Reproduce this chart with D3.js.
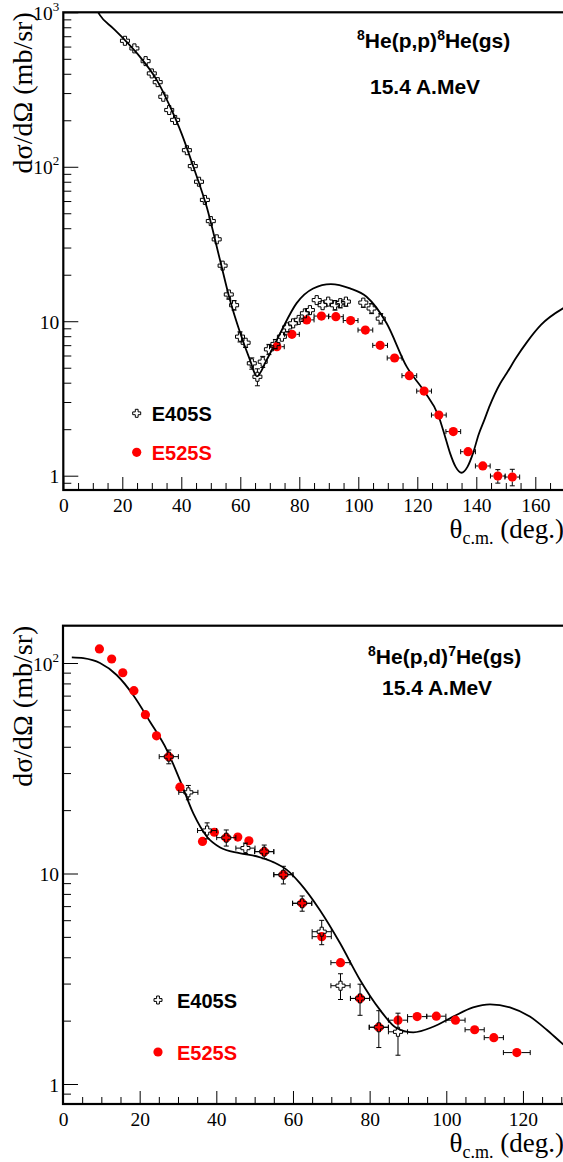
<!DOCTYPE html>
<html>
<head>
<meta charset="utf-8">
<script src="https://cdn.jsdelivr.net/npm/d3@7"></script>
<style>
  html, body { margin: 0; padding: 0; background: #fff; overflow: hidden; }
  svg { display: block; }
</style>
</head>
<body>
<svg id="fig" width="563" height="1162"></svg>
<script>
// ---------- 8He(p,p)8He(gs), 15.4 A.MeV ----------
const ppTicksX = [0, 20, 40, 60, 80, 100, 120, 140, 160];
const ppTicksY = [1, 10, 100, 1000];
const ppTickLabelsY = [["1", ""], ["10", ""], ["10", "2"], ["10", "3"]];

const pp405Theta = [20.9, 24.1, 27.9, 30.0, 32.0, 33.9, 35.9, 37.9, 41.9, 43.9, 46.0, 48.0, 50.0, 52.0, 54.0,
  56.1, 57.9, 59.9, 61.8, 63.9, 65.8, 67.6, 69.7, 71.9, 74.1, 75.9, 77.9, 79.8, 81.9, 83.6,
  85.9, 87.9, 89.8, 92.1, 93.9, 95.8, 101.7, 104.5, 107.6];
const pp405Xs = [654, 584, 483, 402, 353, 284, 233, 201, 128, 101, 80, 61, 44.5, 33.9, 22.9,
  14.9, 12.7, 7.94, 7.26, 5.34, 4.37, 5.47, 6.58, 7.12, 7.94, 9.13, 9.69, 10.2, 11.25, 11.8,
  13.7, 12.7, 13.4, 12.7, 13.1, 13.4, 13.2, 12.1, 10.4];
const pp405Err = [20, 18, 15, 12, 11, 9, 7, 6, 4, 3, 2.4, 1.8, 1.3, 1.0, 0.7,
  1.0, 0.9, 0.6, 0.5, 0.45, 0.55, 0.45, 0.5, 0.5, 0.5, 0.6, 0.6, 0.6, 0.7, 0.7,
  0.8, 0.8, 0.8, 0.9, 0.9, 0.9, 0.9, 0.9, 0.8];

const pp525Theta = [72.4, 77.5, 82.5, 87.5, 92.4, 97.4, 102.4, 107.4, 112.3, 117.3, 122.3, 127.3, 132.2, 137.2, 142.2, 147.3, 152.2];
const pp525Xs = [6.84, 8.23, 10.2, 10.8, 10.7, 10.1, 8.77, 6.98, 5.78, 4.44, 3.53, 2.47, 1.93, 1.43, 1.156, 0.995, 0.98];
const pp525Err = [0.2, 0.2, 0.25, 0.25, 0.25, 0.25, 0.2, 0.18, 0.15, 0.12, 0.1, 0.07, 0.06, 0.05, 0.07, 0.1, 0.12];
const pp525ThetaErr = [2.5, 2.5, 2.5, 2.5, 2.5, 2.5, 2.5, 2.5, 2.5, 2.5, 2.5, 2.5, 2.5, 2.5, 2.5, 2.5, 2.5];

const ppCalcTheta = [11.0, 12.4, 16.9, 20.9, 26.0, 31.7, 36.2, 40.1, 44.1, 48.6, 53.1, 56.5, 60.0, 63.3, 65.6,
  68.9, 73.5, 79.1, 84.7, 90.7, 97.2, 102.8, 109.6, 116.4, 122.3, 127.3, 129.2, 131.1, 133.0, 135.0,
  137.0, 138.9, 140.8, 142.7, 144.6, 148.1, 150.3, 153.5, 157.1, 162.0, 170.0];
const ppCalcXs = [1070, 959, 787, 660, 515, 364, 245, 164, 100, 55, 25, 13.7, 8.35, 5.6, 4.4,
  5.6, 8.35, 13.1, 16.3, 17.4, 16.3, 14.4, 9.7, 5.08, 3.53, 2.41, 1.85, 1.40, 1.14, 1.045,
  1.14, 1.40, 1.85, 2.29, 2.85, 3.95, 4.6, 5.8, 7.3, 9.5, 12.3];

// ---------- 8He(p,d)7He(gs), 15.4 A.MeV ----------
const pdTicksX = [0, 20, 40, 60, 80, 100, 120];
const pdTicksY = [1, 10, 100];
const pdTickLabelsY = [["1", ""], ["10", ""], ["10", "2"]];

const pd405Theta = [27.6, 32.7, 37.6, 42.6, 47.6, 52.5, 57.5, 62.4, 67.5, 72.4, 77.5, 82.4, 87.4];
const pd405Xs = [35.9, 24.3, 16.0, 14.8, 13.2, 12.7, 9.87, 7.22, 5.29, 2.93, 2.55, 1.86, 1.77];
const pd405Err = [2.7, 1.9, 1.4, 1.3, 0.75, 0.95, 0.95, 0.6, 0.7, 0.41, 0.43, 0.37, 0.4];
const pd405ThetaErr = [2.5, 2.5, 2.5, 2.5, 2.5, 2.5, 2.5, 2.5, 2.5, 2.5, 2.5, 2.5, 2.5];

const pd525Theta = [9.5, 12.7, 15.6, 18.5, 21.5, 24.4, 27.6, 30.5, 36.4, 39.5, 42.6, 45.6, 48.5,
  52.5, 57.5, 62.4, 67.5, 72.4, 77.5, 82.4, 87.4, 92.4, 97.4, 102.4, 107.4, 112.4, 118.4];
const pd525Xs = [116.6, 104.5, 89.9, 73.9, 56.8, 45.1, 35.9, 25.7, 14.2, 15.7, 14.8, 14.9, 14.3,
  12.7, 9.87, 7.22, 5.01, 3.77, 2.55, 1.86, 2.01, 2.09, 2.10, 2.01, 1.81, 1.66, 1.41];
const pd525Err = [2, 2, 1.8, 1.5, 1.1, 0.9, 0.7, 0.5, 0.3, 0.3, 0.3, 0.3, 0.3,
  0.25, 0.2, 0.15, 0.1, 0.08, 0.06, 0.05, 0.05, 0.05, 0.05, 0.05, 0.05, 0.05, 0.05];
const pd525ThetaErr = [0, 0, 0, 0, 0, 0, 0, 0, 0, 0, 0, 0, 0,
  2.5, 2.5, 2.5, 2.5, 2.5, 2.5, 2.5, 2.5, 2.5, 2.5, 2.5, 2.5, 2.5, 3.5];

const pdCalcTheta = [2.3, 5.3, 9.65, 14.0, 18.3, 22.7, 27.1, 30.5, 34.0, 37.5, 41.0, 46.0, 51.0, 55.0, 58.4,
  61.8, 67.0, 72.3, 77.5, 82.7, 87.1, 91.4, 96.6, 101.8, 107.0, 111.4, 116.6, 121.8, 126.2, 130.4, 132.0];
const pdCalcXs = [106.4, 105.4, 100, 87.7, 70.5, 52.6, 38.6, 27.8, 19.3, 15.0, 13.3, 12.5, 12.0, 11.3, 10.4,
  9.0, 6.71, 4.66, 3.12, 2.25, 1.84, 1.76, 1.87, 2.09, 2.31, 2.39, 2.31, 2.09, 1.81, 1.55, 1.47];

// ---------- drawing ----------
const RED = "#ff0000";
const SERIF = "'Liberation Serif', 'Times New Roman', serif";
const SANS = "'Liberation Sans', Arial, Helvetica, sans-serif";
const svg = d3.select("#fig");

const zip = (t, v, ey, ex) => t.map((d, i) => ({ t: d, v: v[i], ey: ey ? ey[i] : 0, ex: ex ? ex[i] : 0 }));

function crossPath(s, a) {
  return `M${-a},${-s}H${a}V${-a}H${s}V${a}H${a}V${s}H${-a}V${a}H${-s}V${-a}H${-a}Z`;
}

function errorBars(g, pts, x, y, gap) {
  const cap = 2.5;
  pts.forEach(p => {
    const cx = x(p.t), cy = y(p.v);
    if (p.ey > 0) {
      const yTop = y(p.v + p.ey), yBot = y(Math.max(p.v - p.ey, 1e-3));
      if (cy - gap > yTop) {
        g.append("line").attr("x1", cx).attr("x2", cx).attr("y1", cy - gap).attr("y2", yTop);
        g.append("line").attr("x1", cx - cap).attr("x2", cx + cap).attr("y1", yTop).attr("y2", yTop);
      }
      if (yBot > cy + gap) {
        g.append("line").attr("x1", cx).attr("x2", cx).attr("y1", cy + gap).attr("y2", yBot);
        g.append("line").attr("x1", cx - cap).attr("x2", cx + cap).attr("y1", yBot).attr("y2", yBot);
      }
    }
    if (p.ex > 0) {
      const xl = x(p.t - p.ex), xr = x(p.t + p.ex);
      if (xl < cx - gap) {
        g.append("line").attr("y1", cy).attr("y2", cy).attr("x1", xl).attr("x2", cx - gap);
        g.append("line").attr("y1", cy - cap).attr("y2", cy + cap).attr("x1", xl).attr("x2", xl);
      }
      if (xr > cx + gap) {
        g.append("line").attr("y1", cy).attr("y2", cy).attr("x1", cx + gap).attr("x2", xr);
        g.append("line").attr("y1", cy - cap).attr("y2", cy + cap).attr("x1", xr).attr("x2", xr);
      }
    }
  });
}

function drawPanel(cfg) {
  const g = svg.append("g");
  const x = d3.scaleLinear().domain(cfg.xDomain).range([cfg.left, cfg.right]);
  const y = d3.scaleLog().domain(cfg.yDomain).range([cfg.bottom, cfg.top]);

  const clipId = "clip-" + cfg.id;
  svg.append("clipPath").attr("id", clipId).append("rect")
    .attr("x", cfg.left).attr("y", cfg.top)
    .attr("width", cfg.right - cfg.left).attr("height", cfg.bottom - cfg.top);

  // x axis: minor every 5 deg, major every 20 deg, ticks pointing inward
  const minorX = d3.range(cfg.xDomain[0], cfg.xDomain[1] + 0.001, 5).filter(v => v % 20 !== 0);
  g.append("g").attr("transform", `translate(0,${cfg.bottom})`)
    .call(d3.axisBottom(x).tickValues(minorX).tickSize(-7).tickFormat(""))
    .call(a => a.select(".domain").remove());
  g.append("g").attr("transform", `translate(0,${cfg.bottom})`)
    .call(d3.axisBottom(x).tickValues(cfg.ticksX).tickSize(-13).tickPadding(7.8).tickFormat(d3.format("d")))
    .call(a => a.select(".domain").remove())
    .call(a => a.selectAll("text").attr("font-family", SERIF).attr("font-size", 19.5).attr("fill", "#000"));

  // y axis: log decades with 2..9 minor ticks
  const [y0, y1] = cfg.yDomain;
  const minorY = [];
  for (let e = Math.floor(Math.log10(y0)) ; e <= Math.ceil(Math.log10(y1)); e++) {
    for (let m = 2; m <= 9; m++) {
      const v = m * Math.pow(10, e);
      if (v >= y0 && v <= y1) minorY.push(v);
    }
  }
  g.append("g").attr("transform", `translate(${cfg.left},0)`)
    .call(d3.axisLeft(y).tickValues(minorY).tickSize(-8).tickFormat(""))
    .call(a => a.select(".domain").remove());
  g.append("g").attr("transform", `translate(${cfg.left},0)`)
    .call(d3.axisLeft(y).tickValues(cfg.ticksY).tickSize(-15).tickPadding(4).tickFormat(""))
    .call(a => a.select(".domain").remove())
    .call(a => a.selectAll(".tick").each(function (d, i) {
      const lab = cfg.tickLabelsY[i];
      const t = d3.select(this).append("text")
        .attr("x", -4).attr("y", 7)
        .attr("text-anchor", "end")
        .attr("font-family", SERIF).attr("font-size", 19.5).attr("fill", "#000");
      t.append("tspan").text(lab[0]);
      if (lab[1]) t.append("tspan").attr("font-size", 13).attr("dy", -9).text(lab[1]);
    }));
  g.selectAll(".tick line").attr("stroke", "#000").attr("stroke-width", 1);

  // frame
  g.append("rect")
    .attr("x", cfg.left).attr("y", cfg.top)
    .attr("width", cfg.right - cfg.left).attr("height", cfg.bottom - cfg.top)
    .attr("fill", "none").attr("stroke", "#000").attr("stroke-width", 2.2);

  // calculation
  const line = d3.line().x(d => x(d.t)).y(d => y(d.v)).curve(d3.curveMonotoneX);
  g.append("path").datum(zip(cfg.calcTheta, cfg.calcXs))
    .attr("clip-path", `url(#${clipId})`)
    .attr("d", line).attr("fill", "none").attr("stroke", "#000").attr("stroke-width", 1.8);

  // E525S: red dots
  const bars525 = g.append("g").attr("stroke", "#000").attr("stroke-width", 1);
  errorBars(bars525, cfg.d525, x, y, 4.5);
  g.append("g").selectAll("circle").data(cfg.d525).join("circle")
    .attr("cx", d => x(d.t)).attr("cy", d => y(d.v)).attr("r", 4.6).attr("fill", RED);

  // E405S: open crosses
  const bars405 = g.append("g").attr("stroke", "#000").attr("stroke-width", 1);
  errorBars(bars405, cfg.d405, x, y, 4.5);
  g.append("g").selectAll("path").data(cfg.d405).join("path")
    .attr("transform", d => `translate(${x(d.t)},${y(d.v)})`)
    .attr("d", crossPath(4.5, 1.6))
    .attr("fill", "none").attr("stroke", "#000").attr("stroke-width", 1);

  // titles
  const t1 = g.append("text").attr("x", cfg.title1[0]).attr("y", cfg.title1[1])
    .attr("font-family", SANS).attr("font-weight", "bold").attr("font-size", 21).attr("fill", "#000");
  cfg.reaction.forEach(([txt, sup]) => {
    if (sup) t1.append("tspan").attr("font-size", 14).attr("dy", -8).text(txt);
    else t1.append("tspan").attr("dy", t1.selectAll("tspan").size() ? 8 : 0).text(txt);
  });
  g.append("text").attr("x", cfg.title2[0]).attr("y", cfg.title2[1])
    .attr("font-family", SANS).attr("font-weight", "bold").attr("font-size", 21).attr("fill", "#000")
    .text("15.4 A.MeV");

  // legend
  const lg = cfg.legend;
  g.append("path").attr("transform", `translate(${lg.mx},${lg.y1})`)
    .attr("d", crossPath(4, 1.4)).attr("fill", "#fff").attr("stroke", "#000").attr("stroke-width", 1);
  g.append("text").attr("x", lg.tx).attr("y", lg.y1 + 7.5)
    .attr("font-family", SANS).attr("font-weight", "bold").attr("font-size", 20).attr("fill", "#000")
    .text("E405S");
  g.append("circle").attr("cx", lg.mx).attr("cy", lg.y2).attr("r", 4.6).attr("fill", RED);
  g.append("text").attr("x", lg.tx).attr("y", lg.y2 + 7.5)
    .attr("font-family", SANS).attr("font-weight", "bold").attr("font-size", 20).attr("fill", RED)
    .text("E525S");

  // axis titles
  const xt = g.append("text").attr("x", 564).attr("y", cfg.bottom + 48)
    .attr("text-anchor", "end").attr("font-family", SERIF).attr("font-size", 27).attr("fill", "#000");
  xt.append("tspan").text("θ");
  xt.append("tspan").attr("font-size", 18).attr("dy", 6).text("c.m.");
  xt.append("tspan").attr("dy", -6).text(" (deg.)");

  g.append("text")
    .attr("transform", `translate(32,${cfg.top}) rotate(-90)`)
    .attr("text-anchor", "end").attr("font-family", SERIF).attr("font-size", 28).attr("fill", "#000")
    .text("dσ/dΩ (mb/sr)");
}

drawPanel({
  id: "pp",
  left: 63.3, right: 564.8, top: 12.3, bottom: 490,
  xDomain: [0, 170], yDomain: [0.808, 1000],
  ticksX: ppTicksX, ticksY: ppTicksY, tickLabelsY: ppTickLabelsY,
  calcTheta: ppCalcTheta, calcXs: ppCalcXs,
  d405: zip(pp405Theta, pp405Xs, pp405Err),
  d525: zip(pp525Theta, pp525Xs, pp525Err, pp525ThetaErr),
  reaction: [["8", true], ["He(p,p)", false], ["8", true], ["He(gs)", false]],
  title1: [357, 48], title2: [370, 94],
  legend: { mx: 136.7, tx: 151.7, y1: 413.3, y2: 452.3 }
});

drawPanel({
  id: "pd",
  left: 63, right: 565.1, top: 625.7, bottom: 1104,
  xDomain: [0, 131], yDomain: [0.8035, 150.4],
  ticksX: pdTicksX, ticksY: pdTicksY, tickLabelsY: pdTickLabelsY,
  calcTheta: pdCalcTheta, calcXs: pdCalcXs,
  d405: zip(pd405Theta, pd405Xs, pd405Err, pd405ThetaErr),
  d525: zip(pd525Theta, pd525Xs, pd525Err, pd525ThetaErr),
  reaction: [["8", true], ["He(p,d)", false], ["7", true], ["He(gs)", false]],
  title1: [368, 664], title2: [382, 695],
  legend: { mx: 158, tx: 177, y1: 1000, y2: 1052 }
});
</script>
</body>
</html>
